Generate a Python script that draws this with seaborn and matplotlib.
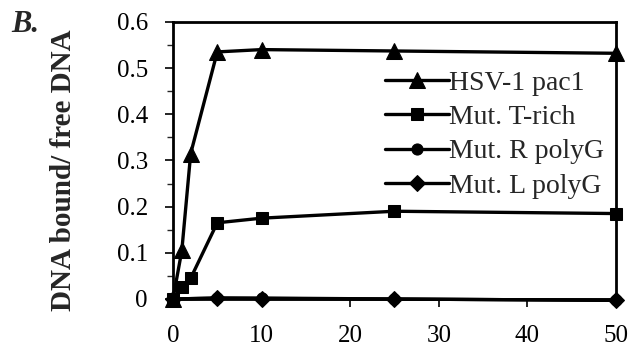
import numpy as np
import pandas as pd
import seaborn as sns
import matplotlib
matplotlib.use("Agg")
import matplotlib.pyplot as plt
from matplotlib.ticker import MultipleLocator

# data
conc = [0, 1, 2, 5, 10, 25, 50]
conc_polyg = [0, 5, 10, 25, 50]
hsv_pac1 = [0.0, 0.105, 0.315, 0.535, 0.540, 0.537, 0.532]
mut_trich = [0.0, 0.025, 0.045, 0.165, 0.175, 0.190, 0.185]
mut_r_polyg = [0.0, 0.002, 0.002, 0.0, -0.003]
mut_l_polyg = [0.0, 0.002, 0.001, 0.0, -0.003]

series_names = ["HSV-1 pac1", "Mut. T-rich", "Mut. R polyG", "Mut. L polyG"]
series_x = [conc, conc, conc_polyg, conc_polyg]
series_vals = [hsv_pac1, mut_trich, mut_r_polyg, mut_l_polyg]
markers = ["^", "s", "o", "D"]
msizes = [11, 8, 8, 8]

sns.set_style("white")
plt.rcParams["font.family"] = ["Liberation Serif", "DejaVu Serif"]

fig = plt.figure(figsize=(6.43, 3.53), dpi=100)
ax = fig.add_axes([0.269, 0.153, 0.689, 0.785])

for name, xs, vals, mk, ms in zip(series_names, series_x, series_vals, markers, msizes):
    df = pd.DataFrame({"x": xs, "y": vals})
    sns.lineplot(data=df, x="x", y="y", ax=ax, color="black", linewidth=2.4,
                 marker=mk, markersize=ms, markeredgecolor="black",
                 label=name, clip_on=False, zorder=3)

ax.set_xlim(0, 50)
ax.set_ylim(0, 0.6)
ax.set_xticks([0, 10, 20, 30, 40, 50])
ax.set_yticks([0, 0.1, 0.2, 0.3, 0.4, 0.5, 0.6])
ax.set_yticklabels(["0", "0.1", "0.2", "0.3", "0.4", "0.5", "0.6"])
ax.yaxis.set_minor_locator(MultipleLocator(0.05))
ax.tick_params(axis="both", which="major", direction="out", length=6, width=1.2,
               labelsize=18, colors="black", bottom=True, left=True)
ax.tick_params(axis="x", pad=13)
ax.tick_params(axis="y", pad=12)
ax.tick_params(axis="y", which="minor", direction="out", length=4, width=1, left=True)
for sp in ax.spines.values():
    sp.set_color("black")
    sp.set_linewidth(2)

ax.set_xlabel("")
ax.set_ylabel("DNA bound/ free DNA", fontsize=21, fontweight="bold")
ax.yaxis.set_label_coords(-0.217, 0.466)

leg = ax.legend(loc="upper right", bbox_to_anchor=(1.01, 0.886), frameon=False,
                fontsize=20, handlelength=2.3, handletextpad=0.0, labelspacing=0.32,
                borderaxespad=0.2)

fig.text(0.018, 0.91, "B.", fontsize=22, fontweight="bold", fontstyle="italic")

fig.savefig("out.png", dpi=100)
